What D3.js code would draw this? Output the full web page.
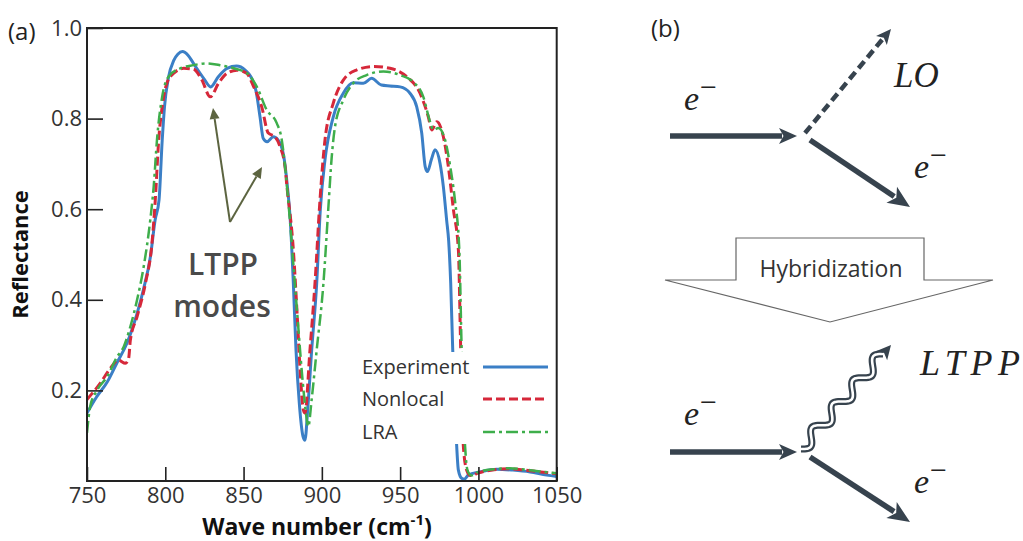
<!DOCTYPE html>
<html><head><meta charset="utf-8">
<script src="https://cdn.jsdelivr.net/npm/d3@7"></script>
<style>body{margin:0;background:#fff}svg{display:block}</style>
</head><body><svg id="c" width="1023" height="541"></svg>
<script>
// ---------------- data ----------------
const xTicks = [750, 800, 850, 900, 950, 1000, 1050];
const yTicks = [0.2, 0.4, 0.6, 0.8, 1.0];
const seriesNames = ["Experiment", "Nonlocal", "LRA"];

const experiment = [
 [750,0.150],[756,0.185],[763,0.219],[769,0.260],[775.5,0.304],[782,0.370],[786,0.422],
 [790.5,0.495],[793.5,0.576],[796,0.62],[798,0.75],[799.5,0.826],[802,0.89],[805.5,0.929],
 [808,0.942],[811,0.948],[814.5,0.94],[818,0.922],[824.5,0.889],[829,0.870],[834,0.893],
 [839.5,0.911],[845.5,0.916],[851,0.907],[856.5,0.878],[858,0.86],[860.5,0.804],[862.6,0.756],
 [865,0.749],[869,0.76],[872,0.753],[875.5,0.72],[878,0.65],[879.7,0.583],[881.8,0.436],
 [883.5,0.289],[885.6,0.172],[888,0.098],[889.2,0.09],[891,0.16],[893.5,0.289],[896.7,0.436],
 [899,0.598],[902,0.709],[907.3,0.804],[913.7,0.856],[920,0.879],[926.5,0.878],[931.8,0.889],
 [938,0.874],[943.5,0.872],[950,0.870],[956.3,0.856],[960.6,0.826],[963.8,0.768],[966,0.694],
 [967.4,0.683],[970,0.71],[972.3,0.731],[975.5,0.701],[977.6,0.650],[979.7,0.576],[981,0.53],
 [982.3,0.437],[983.6,0.289],[985,0.17],[986.1,0.079],[987.2,0.024],[989.3,0.006],[991,0.004],
 [993.5,0.013],[1001,0.02],[1011.7,0.026],[1022,0.024],[1033,0.02],[1043.6,0.013],[1050,0.010]
];
const nonlocal = [
 [750,0.180],[758.5,0.216],[765,0.249],[770,0.267],[774.5,0.260],[776.6,0.271],[777.7,0.311],
 [782,0.363],[787.3,0.436],[791.5,0.525],[793.6,0.62],[795.8,0.753],[798,0.826],[801,0.878],
 [805.4,0.900],[811.8,0.911],[818,0.909],[823.4,0.885],[828.7,0.848],[834,0.878],[839.4,0.900],
 [845.8,0.907],[852,0.900],[856.5,0.870],[861.6,0.826],[865.8,0.768],[870,0.760],[873.3,0.738],
 [876.5,0.694],[877.5,0.657],[881.8,0.510],[884.3,0.363],[886,0.252],[888.2,0.157],[889.2,0.150],
 [892.4,0.289],[895.6,0.436],[898.8,0.620],[902,0.753],[907.3,0.834],[913.7,0.885],[922,0.907],
 [933,0.915],[943.5,0.911],[954,0.893],[962.7,0.856],[968,0.804],[970.2,0.775],[973.4,0.793],
 [977.6,0.760],[980.8,0.694],[984,0.60],[987.2,0.510],[988.7,0.289],[990.4,0.076],[992.5,0.024],
 [995,0.012],[1000,0.018],[1010,0.025],[1020,0.027],[1030,0.024],[1040,0.020],[1050,0.016]
];
const lra = [
 [750,0.106],[752,0.164],[756.4,0.200],[762.8,0.230],[769.2,0.274],[773.4,0.296],[777.7,0.341],
 [782,0.400],[786.2,0.473],[790.4,0.576],[792.6,0.650],[794.7,0.753],[798,0.848],[802.2,0.893],
 [809.6,0.911],[818,0.918],[826.6,0.922],[835,0.918],[843.7,0.911],[852.2,0.900],[858.5,0.870],
 [864.8,0.819],[871.2,0.790],[874.4,0.753],[876.5,0.694],[879,0.60],[882,0.47],[884.5,0.36],
 [887,0.25],[889.5,0.16],[891.3,0.120],[893.5,0.18],[896.7,0.289],[901,0.436],[904.1,0.600],
 [906.3,0.715],[908.4,0.782],[913.7,0.841],[920,0.878],[928.6,0.896],[939.3,0.904],[950,0.896],
 [958.4,0.881],[964.8,0.848],[969.1,0.793],[971.2,0.775],[974.4,0.779],[978.7,0.753],[982,0.694],
 [985,0.62],[987.8,0.510],[989.3,0.289],[991.5,0.076],[993,0.024],[995.5,0.012],[1000,0.020],
 [1010,0.026],[1020,0.028],[1030,0.025],[1040,0.021],[1050,0.017]
];

// ---------------- chart ----------------
const svg = d3.select("#c");
const SANS = "'Open Sans', 'Noto Sans', sans-serif";
const SERIF = "'Liberation Serif', 'DejaVu Serif', serif";
const x = d3.scaleLinear().domain([750, 1050]).range([87, 556.7]);
const y = d3.scaleLinear().domain([0, 1]).range([481, 28]);

const styles = [
  {data: experiment, color: "#3b7fc6", width: 3, dash: null},
  {data: nonlocal, color: "#d6283a", width: 3, dash: "9,4"},
  {data: lra, color: "#3eae4b", width: 2.5, dash: "12,4,3,4"}
];

svg.append("defs").append("clipPath").attr("id", "clip")
  .append("rect").attr("x", x(750)).attr("y", y(1)).attr("width", x(1050) - x(750)).attr("height", y(0) - y(1));

const line = d3.line().x(d => x(d[0])).y(d => y(d[1])).curve(d3.curveMonotoneX);
const gLines = svg.append("g").attr("clip-path", "url(#clip)");
styles.forEach(s => {
  gLines.append("path").datum(s.data).attr("d", line)
    .attr("fill", "none").attr("stroke", s.color).attr("stroke-width", s.width)
    .attr("stroke-dasharray", s.dash).attr("stroke-linejoin", "round");
});

// axes
const gx = svg.append("g").attr("transform", `translate(0,${y(0)})`)
  .call(d3.axisBottom(x).tickValues(xTicks).tickSize(-14).tickPadding(6).tickFormat(d3.format("d")));
gx.select(".domain").remove();
gx.attr("font-family", SANS).attr("font-size", 22);
gx.selectAll("text").attr("fill", "#333");
gx.selectAll("line").attr("stroke", "#222").attr("stroke-width", 1.6);

const gy = svg.append("g").attr("transform", `translate(${x(750)},0)`)
  .call(d3.axisLeft(y).tickValues(yTicks).tickSize(-16).tickPadding(5).tickFormat(d3.format(".1f")));
gy.select(".domain").remove();
gy.attr("font-family", SANS).attr("font-size", 22);
gy.selectAll("text").attr("fill", "#333");
gy.selectAll("line").attr("stroke", "#222").attr("stroke-width", 1.6);

// legend (white background hides curves)
svg.append("rect").attr("x", 352).attr("y", 352).attr("width", 202).attr("height", 92).attr("fill", "#fff");
const leg = svg.append("g");
seriesNames.forEach((n, i) => {
  const yy = [367, 399, 432][i];
  leg.append("text").attr("x", 362).attr("y", yy).attr("dy", "0.35em")
    .attr("font-family", SANS).attr("font-size", 20).attr("fill", "#333").text(n);
  leg.append("line").attr("x1", 483).attr("x2", 548).attr("y1", yy).attr("y2", yy)
    .attr("stroke", styles[i].color).attr("stroke-width", styles[i].width).attr("stroke-dasharray", styles[i].dash);
});

// frame
svg.append("rect").attr("x", x(750)).attr("y", y(1)).attr("width", x(1050) - x(750)).attr("height", y(0) - y(1))
  .attr("fill", "none").attr("stroke", "#222").attr("stroke-width", 2);

// axis titles
svg.append("text").attr("transform", `translate(28,${(y(0)+y(1))/2}) rotate(-90)`).attr("text-anchor", "middle")
  .attr("font-family", SANS).attr("font-weight", 700).attr("font-size", 22).attr("fill", "#111").text("Reflectance");
const xt = svg.append("text").attr("x", 317).attr("y", 535).attr("text-anchor", "middle")
  .attr("font-family", SANS).attr("font-weight", 700).attr("font-size", 23).attr("fill", "#111");
xt.append("tspan").text("Wave number (cm");
xt.append("tspan").attr("font-size", 15).attr("dy", -10).text("-1");
xt.append("tspan").attr("dy", 10).text(")");

svg.append("text").attr("x", 8).attr("y", 40).attr("font-family", SANS).attr("font-size", 24).attr("fill", "#222").text("(a)");

// LTPP modes annotation
const annCol = "#5c6440";
[[262, 167], [213, 108]].forEach(t => {
  const ox = 230, oy = 222;
  const dx = t[0] - ox, dy = t[1] - oy, L = Math.hypot(dx, dy), ux = dx / L, uy = dy / L;
  const bx = t[0] - ux * 11, by = t[1] - uy * 11;
  svg.append("line").attr("x1", ox).attr("y1", oy).attr("x2", bx).attr("y2", by).attr("stroke", annCol).attr("stroke-width", 2);
  svg.append("path").attr("d", `M${t[0]},${t[1]}L${bx - uy*5},${by + ux*5}L${bx + uy*5},${by - ux*5}Z`).attr("fill", annCol);
});
svg.append("text").attr("x", 223).attr("y", 275).attr("text-anchor", "middle").attr("font-family", SANS)
  .attr("font-weight", 600).attr("font-size", 30).attr("fill", "#4a4a4a").text("LTPP");
svg.append("text").attr("x", 222).attr("y", 317).attr("text-anchor", "middle").attr("font-family", SANS)
  .attr("font-weight", 600).attr("font-size", 30).attr("fill", "#4a4a4a").text("modes");

// ---------------- panel (b) ----------------
const dk = "#37434e";
svg.append("text").attr("x", 651).attr("y", 37).attr("font-family", SANS).attr("font-size", 24).attr("fill", "#222").text("(b)");

function arrow(x1, y1, x2, y2, o) {
  const dx = x2 - x1, dy = y2 - y1, L = Math.hypot(dx, dy), ux = dx / L, uy = dy / L;
  const bx = x2 - ux * o.head, by = y2 - uy * o.head;
  if (!o.noLine) svg.append("line").attr("x1", x1).attr("y1", y1).attr("x2", bx + ux * 3).attr("y2", by + uy * 3)
    .attr("stroke", dk).attr("stroke-width", o.w).attr("stroke-dasharray", o.dash || null);
  const nx = bx + ux * o.head * 0.25, ny = by + uy * o.head * 0.25;
  svg.append("path").attr("d", `M${x2},${y2}L${bx - uy * o.hw},${by + ux * o.hw}L${nx},${ny}L${bx + uy * o.hw},${by - ux * o.hw}Z`).attr("fill", dk);
}
function eMinus(xx, yy) {
  const t = svg.append("text").attr("x", xx).attr("y", yy).attr("font-family", SERIF)
    .attr("font-size", 34).attr("fill", "#222");
  t.append("tspan").attr("font-style", "italic").text("e");
  t.append("tspan").attr("font-size", 30).attr("dy", -13).attr("dx", 1).text("\u2212");
}

// top diagram
arrow(670, 136, 797, 136, {w: 5.5, head: 18, hw: 8});
arrow(805, 133, 891, 29, {w: 4.5, head: 15, hw: 7, dash: "9,5"});
arrow(810, 140, 910, 207, {w: 5.5, head: 22, hw: 9.5});
eMinus(684, 110);
eMinus(914, 178);
svg.append("text").attr("x", 894).attr("y", 87).attr("font-family", SERIF).attr("font-style", "italic")
  .attr("font-size", 35).attr("fill", "#222").text("LO");

// hybridization arrow
svg.append("path").attr("d", "M736,238L924,238L924,280L993,280L830,322L665,280L736,280Z")
  .attr("fill", "#fff").attr("stroke", "#666").attr("stroke-width", 1.2);
svg.append("text").attr("x", 831).attr("y", 277).attr("text-anchor", "middle").attr("font-family", SANS)
  .attr("font-size", 23).attr("fill", "#333").text("Hybridization");

// bottom diagram
arrow(670, 452, 797, 452, {w: 5.5, head: 18, hw: 8});
arrow(810, 457, 910, 522, {w: 5.5, head: 22, hw: 9.5});
(function () {
  const sx = 801, sy = 449, ex = 883, ey = 354;
  const dx = ex - sx, dy = ey - sy, L = Math.hypot(dx, dy), ux = dx / L, uy = dy / L;
  const pts = d3.range(0, 1.0001, 0.01).map(t => {
    const a = 6 * Math.sin(2 * Math.PI * 4 * t);
    return [sx + ux * L * t - uy * a, sy + uy * L * t + ux * a];
  });
  const ln = d3.line().curve(d3.curveBasis);
  svg.append("path").attr("d", ln(pts)).attr("fill", "none").attr("stroke", dk).attr("stroke-width", 7);
  svg.append("path").attr("d", ln(pts)).attr("fill", "none").attr("stroke", "#fff").attr("stroke-width", 2.6);
  arrow(sx, sy, 891, 345, {head: 14, hw: 7, noLine: true});
})();
eMinus(684, 425);
eMinus(914, 493);
svg.append("text").attr("x", 920).attr("y", 375).attr("font-family", SERIF).attr("font-style", "italic")
  .attr("font-size", 36).attr("fill", "#222").attr("textLength", 100).attr("lengthAdjust", "spacing").text("LTPP");
</script></body></html>
